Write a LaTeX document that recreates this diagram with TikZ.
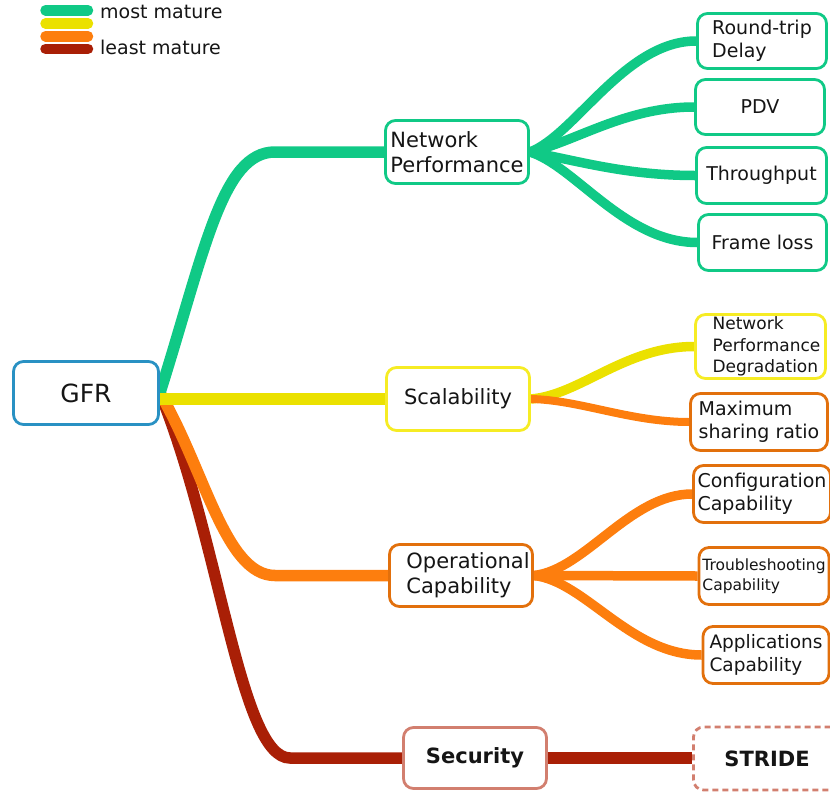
\documentclass[tikz,border=0pt]{standalone}
\usepackage{fontspec}
\setmainfont{DejaVu Sans}
\usetikzlibrary{calc}
\pgfdeclarelayer{links}
\pgfsetlayers{links,main}

\definecolor{cgreen}{HTML}{10C986}
\definecolor{cyellow}{HTML}{EBE100}
\definecolor{cyelbox}{HTML}{F6EC24}
\definecolor{corange}{HTML}{FD7E0E}
\definecolor{corgbox}{HTML}{E2700C}
\definecolor{cred}{HTML}{A91F06}
\definecolor{csalmon}{HTML}{D27F6F}
\definecolor{cblue}{HTML}{2991C3}
\definecolor{ctext}{HTML}{151515}

\tikzset{
  box/.style={draw, fill=white, rounded corners=10pt, line width=2.8pt,
    align=left, inner sep=0pt, text=ctext},
  fbig/.style={font=\fontsize{21}{25}\selectfont},
  fleaf/.style={font=\fontsize{19}{23.5}\selectfont},
  trunk/.style={line width=11.5pt},
  twig/.style={line width=9.5pt},
  legendbar/.style={line width=10.5pt, line cap=round},
}

\begin{document}
\begin{tikzpicture}[x=1pt,y=-1pt]
\useasboundingbox (0,0) rectangle (830,798);

% legend
\draw[legendbar, cgreen]  (45.5,10.3) -- (88,10.3);
\draw[legendbar, cyellow] (45.5,23.5) -- (88,23.5);
\draw[legendbar, corange] (45.5,36.3) -- (88,36.3);
\draw[legendbar, cred]    (45.5,48.8) -- (88,48.8);
\node[anchor=base west, font=\fontsize{19}{23}\selectfont, text=ctext, inner sep=0pt] (lmost) at (100,18.5) {most mature};
\node[anchor=base west, font=\fontsize{19}{23}\selectfont, text=ctext, inner sep=0pt] (lleast) at (100,54.5) {least mature};

% root and main topics
\node[box, draw=cblue, minimum width=145, minimum height=63, font=\fontsize{25}{30}\selectfont] (gfr) at (86,393) {GFR};
\node[box, draw=cgreen, fbig, minimum width=143, minimum height=63] (np) at (457,152) {Network\\Performance};
\node[box, draw=cyelbox, fbig, minimum width=143, minimum height=63] (sc) at (458,399) {Scalability};
\node[box, draw=corgbox, fbig, minimum width=143, minimum height=62] (oc) at (461,575.5) {\hspace*{14pt}Operational\\\hspace*{14pt}Capability};
\node[box, draw=csalmon, font=\fontsize{21}{25}\selectfont\bfseries, minimum width=143, minimum height=61] (sec) at (475,758) {Security};

% subtopics
\node[box, draw=cgreen, fleaf, minimum width=129, minimum height=55] (rt) at (762,41) {Round-trip\\Delay};
\node[box, draw=cgreen, fleaf, minimum width=129, minimum height=55] (pdv) at (760,107) {PDV};
\node[box, draw=cgreen, fleaf, minimum width=130, minimum height=56] (thr) at (761.5,175.5) {Throughput};
\node[box, draw=cgreen, fleaf, minimum width=128, minimum height=56] (fl) at (762.5,242.5) {Frame loss};
\node[box, draw=cyelbox, font=\fontsize{17}{21.5}\selectfont, minimum width=130, minimum height=64] (npd) at (760.5,346.5) {\hspace*{12pt}Network\\\hspace*{12pt}Performance\\\hspace*{12pt}Degradation};
\node[box, draw=corgbox, fleaf, minimum width=137, minimum height=57] (msr) at (759,422) {Maximum\\sharing ratio};
\node[box, draw=corgbox, fleaf, minimum width=137, minimum height=57] (cc) at (762,494) {Configuration\\Capability};
\node[box, draw=corgbox, font=\fontsize{15.5}{20}\selectfont, minimum width=130, minimum height=57] (tc) at (764,576) {Troubleshooting\\Capability};
\node[box, draw=corgbox, font=\fontsize{18.5}{23.5}\selectfont, minimum width=126, minimum height=57] (ac) at (766,655) {Applications\\Capability};
\node[box, draw=csalmon, dashed, dash pattern=on 6pt off 4pt, font=\fontsize{21}{25}\selectfont\bfseries, minimum width=147, minimum height=63] (stride) at (767,758.5) {STRIDE};

% bends where the main branches turn horizontal
\coordinate (npbend) at (275,152);
\coordinate (ocbend) at (275,575.5);
\coordinate (secbend) at (290,758);

\begin{pgfonlayer}{links}
  % main branches
  \draw[trunk, cred] (gfr.east) .. controls (220,540) and (240,758) .. (secbend) -- (sec.west);
  \draw[trunk, corange] (gfr.east) .. controls (205,470) and (225,575.5) .. (ocbend) -- (oc.west);
  \draw[trunk, cgreen] (gfr.east) .. controls (205,250) and (222,152) .. (npbend) -- (np.west);
  \draw[trunk, cyellow] (gfr.east |- sc.west) -- (sc.west);

  % network performance
  \draw[twig, cgreen] (np.east) .. controls (575,135) and (625,41) .. (rt.west);
  \draw[twig, cgreen] (np.east) .. controls (575,142) and (625,107) .. (pdv.west);
  \draw[twig, cgreen] (np.east) .. controls (575,160) and (625,175.5) .. (thr.west);
  \draw[twig, cgreen] (np.east) .. controls (575,166) and (625,242.5) .. (fl.west);

  % scalability
  \draw[twig, cyellow] (sc.east) .. controls (580,395) and (625,346.5) .. (npd.west);
  \draw[line width=8pt, corange] (sc.east) .. controls (580,400) and (630,422) .. (msr.west);

  % operational capability
  \draw[twig, corange] (oc.east) .. controls (585,570) and (630,494) .. (cc.west);
  \draw[twig, corange] (oc.east) -- (tc.west);
  \draw[twig, corange] (oc.east) .. controls (585,581) and (630,655) .. (ac.west);

  % security
  \draw[trunk, cred] (sec.east) -- (sec.east -| stride.west);
\end{pgfonlayer}
\end{tikzpicture}
\end{document}
